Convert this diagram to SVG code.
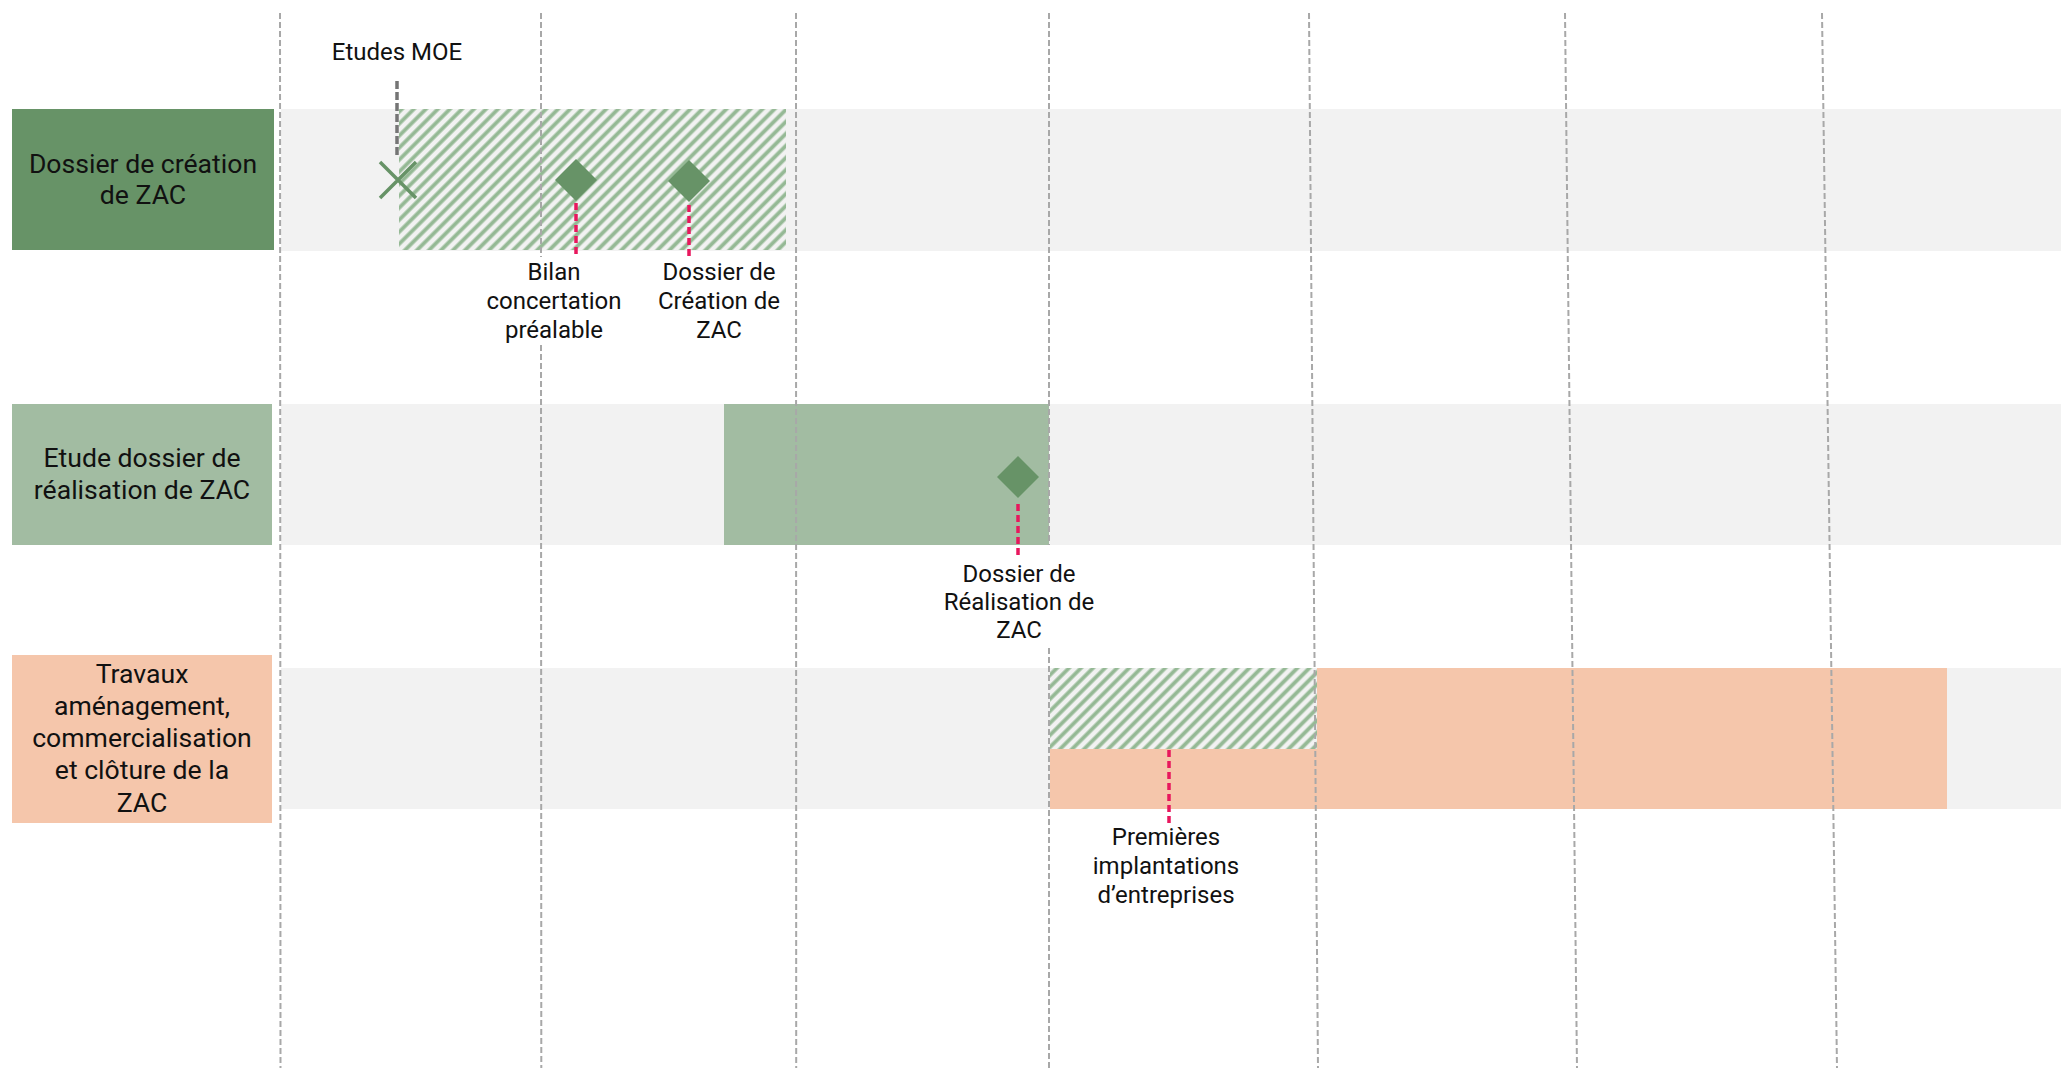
<svg xmlns="http://www.w3.org/2000/svg" width="2061" height="1070" viewBox="0 0 2061 1070">
<defs>
<pattern id="hatch" patternUnits="userSpaceOnUse" width="8.5" height="8.5" patternTransform="rotate(45)">
<rect width="8.5" height="8.5" fill="#f2f2f2"/>
<line x1="4.25" y1="0" x2="4.25" y2="8.5" stroke="#95b995" stroke-width="3.8"/>
</pattern>
<style>
text{font-family:Roboto,"Liberation Sans",sans-serif;fill:#111;text-anchor:middle}
.lbl{font-size:26.6px}
.note{font-size:24px}
.band{fill:#f2f2f2}
.grid{stroke:#a8a8a8;stroke-width:2;stroke-dasharray:6 3;fill:none}
.pin{stroke:#e8175d;stroke-width:3.5;stroke-dasharray:7 4;fill:none}
.moe{stroke:#757575;stroke-width:3.5;stroke-dasharray:8 3;fill:none}
.dia{fill:#679367}
</style>
</defs>
<rect width="2061" height="1070" fill="#ffffff"/>
<g id="bands">
<rect class="band" x="281" y="109" width="1780" height="142"/>
<rect class="band" x="281" y="404" width="1780" height="141"/>
<rect class="band" x="281" y="668" width="1780" height="141"/>
</g>
<g id="bars">
<rect x="399" y="109" width="387" height="141" fill="url(#hatch)"/>
<rect x="724" y="404" width="325" height="141" fill="#a2bca2"/>
<rect x="1050" y="668" width="897" height="141" fill="#f5c6ab"/>
<rect x="1050" y="668" width="267" height="81" fill="url(#hatch)"/>
</g>
<g id="grid">
<line class="grid" x1="280" y1="13" x2="280.5" y2="1068"/>
<line class="grid" x1="541" y1="13" x2="541" y2="257"/>
<line class="grid" x1="541" y1="345" x2="541.3" y2="1068"/>
<line class="grid" x1="796" y1="13" x2="796.2" y2="1068"/>
<line class="grid" x1="1049" y1="13" x2="1049" y2="545"/>
<line class="grid" x1="1049" y1="648" x2="1049" y2="1068"/>
<line class="grid" x1="1309" y1="13" x2="1318" y2="1068"/>
<line class="grid" x1="1565" y1="13" x2="1577" y2="1068"/>
<line class="grid" x1="1822" y1="13" x2="1837" y2="1068"/>
</g>
<g id="row1">
<rect x="12" y="109" width="262" height="141" fill="#679367"/>
<text class="lbl" x="143" y="173">Dossier de création</text>
<text class="lbl" x="143" y="204">de ZAC</text>
</g>
<g id="row2">
<rect x="12" y="404" width="260" height="141" fill="#a2bca2"/>
<text class="lbl" x="142" y="467">Etude dossier de</text>
<text class="lbl" x="142" y="499">réalisation de ZAC</text>
</g>
<g id="row3">
<rect x="12" y="655" width="260" height="168" fill="#f5c6ab"/>
<text class="lbl" x="142" y="683">Travaux</text>
<text class="lbl" x="142" y="715">aménagement,</text>
<text class="lbl" x="142" y="747">commercialisation</text>
<text class="lbl" x="142" y="779">et clôture de la</text>
<text class="lbl" x="142" y="812">ZAC</text>
</g>
<g id="connectors">
<line class="moe" x1="397" y1="81" x2="397" y2="157"/>
<line class="pin" x1="576" y1="203" x2="576" y2="257"/>
<line class="pin" x1="689" y1="205" x2="689" y2="258"/>
<line class="pin" x1="1018" y1="504" x2="1018" y2="557"/>
<line class="pin" x1="1169" y1="750" x2="1169" y2="823"/>
</g>
<g id="etudes-moe">
<text class="note" x="397" y="60">Etudes MOE</text>
<path d="M380 162 L416 198 M380 198 L416 162" stroke="#679367" stroke-width="3.5" fill="none"/>
</g>
<g id="bilan">
<path class="dia" d="M576 159 L597 180 L576 201 L555 180 Z"/>
<text class="note" x="554" y="280">Bilan</text>
<text class="note" x="554" y="309">concertation</text>
<text class="note" x="554" y="338">préalable</text>
</g>
<g id="dossier-creation">
<path class="dia" d="M689 160 L710 181 L689 202 L668 181 Z"/>
<text class="note" x="719" y="280">Dossier de</text>
<text class="note" x="719" y="309">Création de</text>
<text class="note" x="719" y="338">ZAC</text>
</g>
<g id="dossier-realisation">
<path class="dia" d="M1018 456 L1039 477 L1018 498 L997 477 Z"/>
<text class="note" x="1019" y="582">Dossier de</text>
<text class="note" x="1019" y="610">Réalisation de</text>
<text class="note" x="1019" y="638">ZAC</text>
</g>
<g id="premieres">
<text class="note" x="1166" y="845">Premières</text>
<text class="note" x="1166" y="874">implantations</text>
<text class="note" x="1166" y="903">d’entreprises</text>
</g>
</svg>
